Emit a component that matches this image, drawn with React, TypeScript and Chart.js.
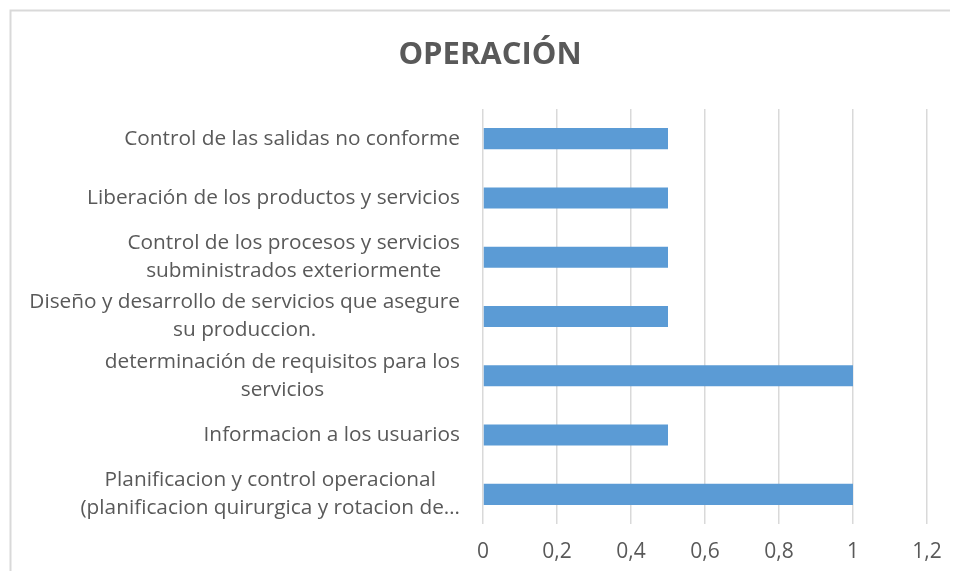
import React, { useEffect, useRef } from 'react';
import { Chart, registerables } from 'chart.js';

Chart.register(...registerables);

const chartTitle = 'OPERACIÓN';
const categories: string[][] = [
  ['Control de las salidas no conforme'],
  ['Liberación de los productos y servicios'],
  ['Control de los procesos y servicios', 'subministrados exteriormente'],
  ['Diseño y desarrollo de servicios que asegure', 'su produccion.'],
  ['determinación de requisitos para los', 'servicios'],
  ['Informacion a los usuarios'],
  ['Planificacion y control operacional', '(planificacion quirurgica y rotacion de…'],
];
const values = [0.5, 0.5, 0.5, 0.5, 1, 0.5, 1];
const xTickLabels = ['0', '0,2', '0,4', '0,6', '0,8', '1', '1,2'];

const TEXT = '#595959';
const GRID = '#d9d9d9';
const BAR = '#5B9BD5';
const FONT = '"Open Sans", sans-serif';

const framePlugin = {
  id: 'frame',
  beforeDraw(chart: any) {
    const ctx = chart.ctx;
    ctx.save();
    ctx.strokeStyle = GRID;
    ctx.lineWidth = 2;
    ctx.beginPath();
    ctx.moveTo(2.5, chart.height);
    ctx.lineTo(2.5, 2.5);
    ctx.lineTo(chart.width, 2.5);
    ctx.stroke();
    ctx.restore();
  },
};

const titlePlugin = {
  id: 'customTitle',
  afterDraw(chart: any) {
    const ctx = chart.ctx;
    ctx.save();
    ctx.fillStyle = TEXT;
    ctx.font = `bold 31px ${FONT}`;
    ctx.textAlign = 'center';
    ctx.textBaseline = 'middle';
    ctx.fillText(chartTitle, 482, 47);
    ctx.restore();
  },
};

const yLabelPlugin = {
  id: 'yLabels',
  afterDraw(chart: any) {
    const ctx = chart.ctx;
    const yScale = chart.scales.y;
    const right = chart.chartArea.left - 23;
    const lh = 28;
    ctx.save();
    ctx.fillStyle = TEXT;
    ctx.font = `20.8px ${FONT}`;
    ctx.textAlign = 'center';
    ctx.textBaseline = 'middle';
    categories.forEach((lines, i) => {
      const py = yScale.getPixelForTick(i);
      const w = Math.max(...lines.map((l) => ctx.measureText(l).width));
      const cx = right - w / 2;
      const y0 = py - ((lines.length - 1) * lh) / 2;
      lines.forEach((l, j) => ctx.fillText(l, cx, y0 + j * lh));
    });
    ctx.restore();
  },
};

export default function App() {
  const ref = useRef<HTMLCanvasElement | null>(null);
  useEffect(() => {
    if (!ref.current) return;
    const chart = new Chart(ref.current, {
      type: 'bar',
      data: {
        labels: categories.map((c) => c.join(' ')),
        datasets: [
          {
            data: values,
            backgroundColor: BAR,
            borderWidth: 0,
            barPercentage: 0.355,
            categoryPercentage: 1,
          },
        ],
      },
      options: {
        indexAxis: 'y',
        animation: false,
        responsive: true,
        maintainAspectRatio: false,
        layout: { padding: { top: 101, right: 23, left: 0, bottom: 0 } },
        plugins: {
          legend: { display: false },
          title: { display: false },
          tooltip: { enabled: false },
        },
        scales: {
          x: {
            min: 0,
            max: 1.2,
            ticks: {
              stepSize: 0.2,
              color: TEXT,
              font: { family: FONT, size: 21 },
              padding: 15,
              callback: (_v: any, i: number) => xTickLabels[i],
            },
            grid: { color: GRID, lineWidth: 1.5, drawTicks: false },
            border: { display: false },
            afterFit: (s: any) => {
              s.height = 47;
              s.paddingLeft = 0;
              s.paddingRight = 0;
            },
          },
          y: {
            ticks: { display: false },
            grid: { display: false },
            border: { display: false },
            afterFit: (s: any) => {
              s.width = 475;
            },
          },
        },
      },
      plugins: [framePlugin, titlePlugin, yLabelPlugin],
    });
    return () => chart.destroy();
  }, []);
  return (
    <div style={{ position: 'relative', width: 942, height: 563 }}>
      <canvas ref={ref} />
    </div>
  );
}
